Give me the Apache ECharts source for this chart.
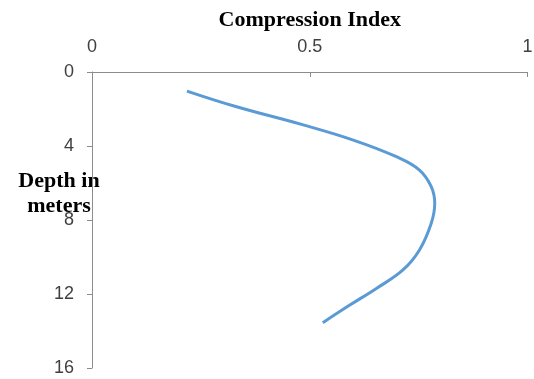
<!DOCTYPE html>
<html>
<head>
<meta charset="utf-8">
<script src="https://cdn.jsdelivr.net/npm/echarts@6/dist/echarts.min.js"></script>
<style>html,body{margin:0;padding:0;background:#fff}#c{width:534px;height:379px}</style>
</head>
<body>
<div id="c"></div>
<script>
var compressionIndex = [0.218, 0.332, 0.485, 0.600, 0.699, 0.752, 0.779, 0.787, 0.779, 0.752, 0.714, 0.653, 0.592, 0.530];
var depth = [1.03, 1.88, 2.86, 3.68, 4.58, 5.30, 6.2, 7.1, 8.18, 9.62, 10.7, 11.7, 12.6, 13.55];
var xTicks = [0, 0.5, 1];
var yTicks = [0, 4, 8, 12, 16];

var pts = compressionIndex.map(function (v, i) { return [v, depth[i]]; });
var chart = echarts.init(document.getElementById('c'));
chart.setOption({
  animation: false,
  grid: { left: 92, top: 72, right: 6.5, bottom: 11, containLabel: false, outerBoundsMode: 'none' },
  xAxis: {
    type: 'value', position: 'top', min: 0, max: 1, interval: 0.5,
    name: 'Compression Index', nameLocation: 'middle', nameGap: 41,
    nameTextStyle: { fontFamily: 'Liberation Serif', fontWeight: 'bold', fontSize: 22, color: '#000' },
    axisLine: { show: true, lineStyle: { color: '#8c8c8c', width: 1 } },
    axisTick: { show: true, inside: true, length: 5, lineStyle: { color: '#8c8c8c' } },
    axisLabel: { fontFamily: 'Liberation Sans', fontSize: 18, color: '#404040', margin: 16 },
    splitLine: { show: false }
  },
  yAxis: {
    type: 'value', inverse: true, min: 0, max: 16, interval: 4,
    axisLine: { show: true, lineStyle: { color: '#8c8c8c', width: 1 } },
    axisTick: { show: true, length: 5, lineStyle: { color: '#8c8c8c' } },
    axisLabel: { fontFamily: 'Liberation Sans', fontSize: 18, color: '#404040', margin: 18 },
    splitLine: { show: false }
  },
  graphic: [{
    type: 'text', x: 59, y: 169,
    style: { text: 'Depth in\nmeters', font: 'bold 22px "Liberation Serif"', fill: '#000', lineHeight: 25, align: 'center' }
  }],
  series: [{
    type: 'line', data: pts, smooth: 0.4, showSymbol: false,
    lineStyle: { color: '#5b9bd5', width: 3 }
  }]
});
</script>
</body>
</html>
